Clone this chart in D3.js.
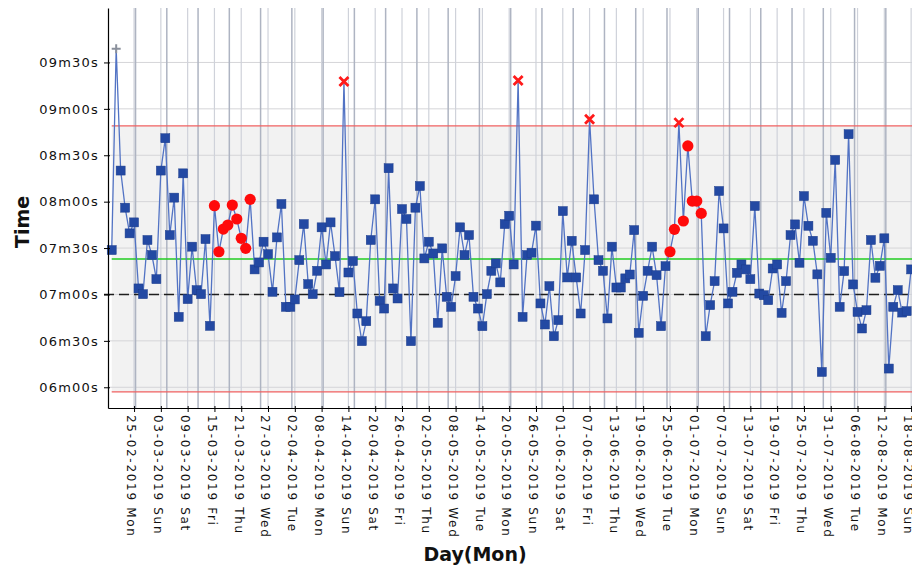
<!DOCTYPE html>
<html>
<head>
<meta charset="utf-8">
<script src="https://cdn.jsdelivr.net/npm/d3@7"></script>
<style>
    body { margin: 0; background: #fff; }
    #control-chart { width: 912px; height: 570px; overflow: hidden; }
    text { font-family: "DejaVu Sans", sans-serif; }
</style>
</head>
<body>
<div id="control-chart"></div>
<script>

// daily times in seconds, one per day from firstDay
const firstDay = "2019-02-20";
const times = [
    448.7, 578.8, 500.1, 476.1, 459.5, 466.6, 423.9, 420.2, 455.2, 445.5,
    429.9, 500.1, 521.0, 458.4, 482.6, 405.5, 498.3, 417.0, 450.9, 422.8,
    420.2, 455.8, 399.7, 477.4, 447.6, 462.3, 464.9, 477.8, 468.8, 456.3,
    449.8, 481.5, 436.2, 440.7, 454.1, 446.1, 421.7, 456.9, 478.5, 412.0,
    412.0, 416.8, 442.2, 465.5, 426.7, 420.2, 435.3, 463.4, 439.4, 466.6,
    444.8, 421.5, 557.7, 434.2, 441.6, 407.7, 389.8, 402.7, 455.2, 481.5,
    415.9, 410.9, 501.6, 423.9, 417.4, 475.2, 468.8, 389.8, 476.1, 490.1,
    443.3, 454.1, 446.5, 401.7, 449.8, 418.5, 412.0, 431.9, 463.4, 445.5,
    458.4, 418.5, 410.9, 399.5, 420.2, 435.3, 440.1, 427.8, 465.5, 470.9,
    439.4, 558.4, 405.5, 445.5, 447.0, 464.5, 414.2, 400.6, 425.4, 393.0,
    403.4, 473.9, 431.0, 454.7, 431.0, 407.7, 448.7, 533.3, 481.5, 442.2,
    435.3, 404.5, 450.9, 424.5, 424.5, 430.4, 432.9, 461.6, 395.2, 419.1,
    435.3, 450.9, 432.5, 399.5, 438.3, 447.6, 462.1, 531.1, 467.5, 516.0,
    480.4, 480.4, 472.4, 393.0, 413.1, 428.6, 486.9, 462.7, 414.2, 421.7,
    434.0, 439.4, 436.2, 429.9, 477.2, 420.6, 419.5, 416.3, 436.8, 439.4,
    408.1, 428.6, 458.4, 465.3, 440.5, 483.6, 464.4, 454.7, 433.0, 369.9,
    472.8, 443.7, 507.0, 412.0, 435.1, 523.6, 426.5, 408.7, 398.0, 409.8,
    455.2, 430.8, 438.5, 456.3, 372.1, 412.0, 422.8, 408.3, 409.2, 436.2
];

// point flags (day index)
const ruleBreaks = [23, 24, 25, 26, 27, 28, 29, 30, 31, 125, 126, 128, 129, 130, 131, 132];
const outOfLimits = [52, 91, 107, 127];
const excluded = [1];

// limits (seconds)
const ucl = 529;
const lcl = 357;
const centreLine = 443;
const target = 420;

const yTicks = [360, 390, 420, 450, 480, 510, 540, 570];
const xTickDays = [
    "25-02-2019", "03-03-2019", "09-03-2019", "15-03-2019", "21-03-2019", "27-03-2019",
    "02-04-2019", "08-04-2019", "14-04-2019", "20-04-2019", "26-04-2019", "02-05-2019",
    "08-05-2019", "14-05-2019", "20-05-2019", "26-05-2019", "01-06-2019", "07-06-2019",
    "13-06-2019", "19-06-2019", "25-06-2019", "01-07-2019", "07-07-2019", "13-07-2019",
    "19-07-2019", "25-07-2019", "31-07-2019", "06-08-2019", "12-08-2019", "18-08-2019"
];


class ControlChart {

    constructor(parentElement, data) {
        this.parentElement = parentElement;
        this.data = data;
        this.initVis();
    }

    initVis() {
        let vis = this;

        vis.width = 912;
        vis.height = 570;
        vis.plot = {left: 108, top: 8, bottom: 408};

        vis.svg = d3.select("#" + vis.parentElement)
            .append("svg")
            .attr("width", vis.width)
            .attr("height", vis.height);

        let start = vis.data[0].date;
        let pxPerDay = 4.465;
        let spanDays = 191.833;

        vis.x = d3.scaleTime()
            .domain([d3.utcHour.offset(start, -20), d3.utcHour.offset(start, -20 + spanDays * 24)])
            .range([vis.plot.left, vis.plot.left + spanDays * pxPerDay]);

        vis.y = d3.scaleLinear()
            .domain([346.6, 605.2])
            .range([vis.plot.bottom, vis.plot.top]);

        vis.right = vis.x.range()[1];

        vis.updateVis();
    }

    updateVis() {
        let vis = this;
        let first = vis.data[0].date;

        // plot background and control band
        vis.svg.append("rect")
            .attr("x", vis.plot.left).attr("y", vis.plot.top)
            .attr("width", vis.right - vis.plot.left)
            .attr("height", vis.plot.bottom - vis.plot.top)
            .attr("fill", "#ffffff");

        vis.svg.append("rect")
            .attr("x", vis.x(first))
            .attr("y", vis.y(ucl))
            .attr("width", vis.right - vis.x(first))
            .attr("height", vis.y(lcl) - vis.y(ucl))
            .attr("fill", "#f2f2f2");

        // horizontal grid
        vis.svg.append("g")
            .selectAll("line")
            .data(yTicks)
            .enter()
            .append("line")
            .attr("x1", vis.plot.left).attr("x2", vis.right)
            .attr("y1", d => vis.y(d)).attr("y2", d => vis.y(d))
            .attr("stroke", "#d5d5d8")
            .attr("stroke-width", 1);

        // vertical grid: tick days (light) and mondays (darker)
        let tickDates = xTickDays.map(d3.utcParse("%d-%m-%Y"));

        vis.svg.append("g")
            .selectAll("line")
            .data(tickDates)
            .enter()
            .append("line")
            .attr("x1", d => vis.x(d)).attr("x2", d => vis.x(d))
            .attr("y1", vis.plot.top).attr("y2", vis.plot.bottom)
            .attr("stroke", "#cfd2da")
            .attr("stroke-width", 1.2);

        let mondays = d3.utcMonday.range(vis.x.domain()[0], vis.x.domain()[1]);

        vis.svg.append("g")
            .selectAll("line")
            .data(mondays)
            .enter()
            .append("line")
            .attr("x1", d => vis.x(d3.utcHour.offset(d, 8)))
            .attr("x2", d => vis.x(d3.utcHour.offset(d, 8)))
            .attr("y1", vis.plot.top).attr("y2", vis.plot.bottom)
            .attr("stroke", "#aeb4c2")
            .attr("stroke-width", 1.5);

        // limit lines
        let limits = [
            {v: ucl, color: "#f06060", w: 1.3},
            {v: lcl, color: "#f06060", w: 1.3},
            {v: centreLine, color: "#22cc22", w: 1.5}
        ];

        vis.svg.append("g")
            .selectAll("line")
            .data(limits)
            .enter()
            .append("line")
            .attr("x1", vis.x(first)).attr("x2", vis.right)
            .attr("y1", d => vis.y(d.v)).attr("y2", d => vis.y(d.v))
            .attr("stroke", d => d.color)
            .attr("stroke-width", d => d.w);

        vis.svg.append("line")
            .attr("x1", vis.plot.left - 4).attr("x2", vis.right)
            .attr("y1", vis.y(target)).attr("y2", vis.y(target))
            .attr("stroke", "#1e1e1e")
            .attr("stroke-width", 1.6)
            .attr("stroke-dasharray", "10,5");

        // series line
        let line = d3.line()
            .x(d => vis.x(d.date))
            .y(d => vis.y(d.time));

        vis.svg.append("path")
            .datum(vis.data)
            .attr("d", line)
            .attr("fill", "none")
            .attr("stroke", "#5273c4")
            .attr("stroke-width", 1.3);

        // markers
        let points = vis.svg.append("g")
            .selectAll("g")
            .data(vis.data)
            .enter()
            .append("g")
            .attr("transform", d => `translate(${vis.x(d.date)},${vis.y(d.time)})`);

        points.filter(d => d.kind === "normal")
            .append("rect")
            .attr("x", -4.5).attr("y", -4.5)
            .attr("width", 9).attr("height", 9)
            .attr("fill", "#2349a3")
            .attr("stroke", "#1c3c8c")
            .attr("stroke-width", 0.5);

        points.filter(d => d.kind === "rule")
            .append("circle")
            .attr("r", 5.6)
            .attr("fill", "#ff0a0a");

        points.filter(d => d.kind === "limit")
            .append("path")
            .attr("d", "M-4.5,-4.5L4.5,4.5M-4.5,4.5L4.5,-4.5")
            .attr("stroke", "#ff1a1a")
            .attr("stroke-width", 2.8);

        points.filter(d => d.kind === "excluded")
            .append("path")
            .attr("d", "M-4.5,0H4.5M0,-4.5V4.5")
            .attr("stroke", "#8a909c")
            .attr("stroke-width", 2);

        // axes
        let fmtTime = s => `${d3.format("02")(Math.floor(s / 60))}m${d3.format("02")(s % 60)}s`;

        let yAxis = vis.svg.append("g")
            .attr("transform", `translate(${vis.plot.left},0)`)
            .call(d3.axisLeft(vis.y)
                .tickValues(yTicks)
                .tickFormat(fmtTime)
                .tickSizeInner(4)
                .tickSizeOuter(0)
                .tickPadding(5));

        yAxis.select(".domain").attr("stroke", "#000").attr("stroke-width", 1.2);
        yAxis.selectAll(".tick line").attr("x2", -4).attr("x1", 2).attr("stroke", "#000");
        yAxis.selectAll(".tick text")
            .attr("fill", "#111")
            .style("font-size", "13px")
            .style("letter-spacing", "1.2px");

        let xAxis = vis.svg.append("g")
            .attr("transform", `translate(0,${vis.plot.bottom})`)
            .call(d3.axisBottom(vis.x)
                .tickValues(tickDates)
                .tickFormat(d3.utcFormat("%d-%m-%Y %a"))
                .tickSizeInner(4)
                .tickSizeOuter(0));

        xAxis.select(".domain").attr("stroke", "#000").attr("stroke-width", 1.2);
        xAxis.selectAll(".tick line").attr("y1", -2).attr("y2", 4).attr("stroke", "#000");
        xAxis.selectAll(".tick text")
            .attr("transform", "rotate(90)")
            .attr("x", 7)
            .attr("y", 0)
            .attr("dy", "0.6em")
            .attr("text-anchor", "start")
            .attr("fill", "#111")
            .style("font-size", "12px")
            .style("letter-spacing", "1.7px");

        // axis titles
        vis.svg.append("text")
            .attr("x", 475)
            .attr("y", 561)
            .attr("text-anchor", "middle")
            .style("font-size", "19px")
            .style("font-weight", "bold")
            .attr("fill", "#111")
            .text("Day(Mon)");

        vis.svg.append("text")
            .attr("transform", "translate(29,222) rotate(-90)")
            .attr("text-anchor", "middle")
            .style("font-size", "19px")
            .style("font-weight", "bold")
            .attr("fill", "#111")
            .text("Time");
    }
}

let start = d3.utcParse("%Y-%m-%d")(firstDay);
let chartData = times.map((t, i) => ({
    date: d3.utcDay.offset(start, i),
    time: t,
    kind: excluded.includes(i) ? "excluded"
        : outOfLimits.includes(i) ? "limit"
        : ruleBreaks.includes(i) ? "rule"
        : "normal"
}));

new ControlChart("control-chart", chartData);

</script>
</body>
</html>
